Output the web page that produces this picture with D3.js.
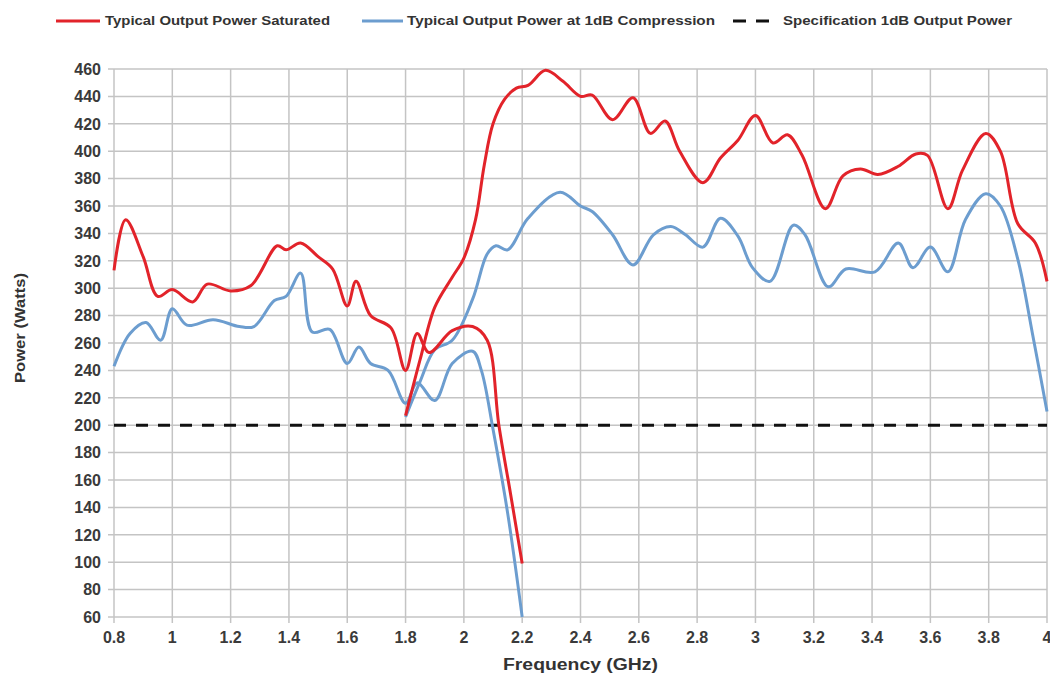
<!DOCTYPE html>
<html>
<head>
<meta charset="utf-8">
<script src="https://cdn.jsdelivr.net/npm/d3@7"></script>
<style>
  body { margin: 0; background: #fff; }
  text { font-family: "Liberation Sans", Arial, sans-serif; font-weight: bold; }
</style>
</head>
<body>
<div id="chart"></div>
<script>
// saturated power, lower band (0.8 - 2.2 GHz)
var satLowFreq = [0.8, 0.84, 0.9, 0.95, 1.0, 1.07, 1.12, 1.2, 1.27, 1.36, 1.39, 1.44, 1.5, 1.55, 1.6, 1.63, 1.68, 1.75, 1.8, 1.84, 1.88, 1.96, 2.03, 2.08, 2.12, 2.16, 2.2];
var satLowPower = [313, 350, 323, 294, 299, 290, 303, 298, 302, 331, 328, 333, 323, 314, 287, 305, 280, 271, 240, 267, 253, 269, 272, 262, 200, 150, 99];

// saturated power, upper band (1.8 - 4.0 GHz)
var satHighFreq = [1.8, 1.85, 1.9, 1.96, 2.0, 2.04, 2.07, 2.1, 2.14, 2.18, 2.22, 2.28, 2.34, 2.4, 2.44, 2.51, 2.58, 2.64, 2.69, 2.74, 2.82, 2.88, 2.94, 3.0, 3.06, 3.11, 3.16, 3.24, 3.3, 3.36, 3.42, 3.49, 3.55, 3.59, 3.66, 3.71, 3.79, 3.84, 3.9, 3.96, 4.0];
var satHighPower = [207, 248, 286, 308, 322, 350, 390, 420, 438, 446, 448, 459, 451, 440, 441, 423, 439, 413, 422, 400, 377, 395, 408, 426, 406, 412, 397, 358, 382, 387, 383, 389, 398, 397, 358, 386, 413, 400, 347, 333, 305];

// 1dB compression power, lower band
var cmpLowFreq = [0.8, 0.855, 0.91, 0.96, 1.0, 1.05, 1.14, 1.23, 1.28, 1.35, 1.39, 1.44, 1.48, 1.54, 1.6, 1.64, 1.68, 1.74, 1.8, 1.84, 1.9, 1.96, 2.03, 2.06, 2.1, 2.15, 2.2];
var cmpLowPower = [243, 267, 275, 262, 285, 273, 277, 272, 272, 291, 294, 311, 268, 270, 245, 257, 245, 240, 216, 231, 218, 245, 254, 240, 197, 136, 60];

// 1dB compression power, upper band
var cmpHighFreq = [1.8, 1.85, 1.9, 1.96, 2.03, 2.08, 2.11, 2.15, 2.22, 2.33, 2.4, 2.44, 2.51, 2.58, 2.65, 2.71, 2.76, 2.82, 2.88, 2.94, 2.99, 3.05, 3.13, 3.17, 3.25, 3.31, 3.41, 3.49, 3.54, 3.6, 3.66, 3.72, 3.79, 3.84, 3.9, 3.95, 4.0];
var cmpHighPower = [206, 232, 255, 262, 292, 325, 331, 328, 351, 370, 360, 356, 339, 317, 339, 345, 339, 330, 351, 338, 315, 305, 346, 339, 301, 314, 312, 333, 315, 330, 312, 350, 369, 360, 321, 267, 210];

var specPower = 200;

var xTicks = [0.8, 1, 1.2, 1.4, 1.6, 1.8, 2, 2.2, 2.4, 2.6, 2.8, 3, 3.2, 3.4, 3.6, 3.8, 4];
var yTicks = d3.range(60, 461, 20);

var legendNames = ['Typical Output Power Saturated', 'Typical Output Power at 1dB Compression', 'Specification 1dB Output Power'];

var width = 1050;
var height = 675;
var margin = {top: 69, right: 3, bottom: 58, left: 114};

var red = '#e2232a';
var blue = '#6c9dcf';
var gridColor = '#c4c4c4';

var svg = d3.select('#chart')
.append('svg')
.attr('width', width)
.attr('height', height);

var x = d3.scaleLinear().domain([0.8, 4]).range([margin.left, width - margin.right]);
var y = d3.scaleLinear().domain([60, 460]).range([height - margin.bottom, margin.top]);

// grid lines, with little tick stubs outside the plot
svg.append('g').selectAll('line').data(yTicks).enter().append('line')
.attr('x1', margin.left - 6).attr('x2', width - margin.right)
.attr('y1', function(d) { return y(d); }).attr('y2', function(d) { return y(d); })
.attr('stroke', gridColor).attr('stroke-width', 1.5);

svg.append('g').selectAll('line').data(xTicks).enter().append('line')
.attr('x1', function(d) { return x(d); }).attr('x2', function(d) { return x(d); })
.attr('y1', margin.top).attr('y2', height - margin.bottom + 6)
.attr('stroke', gridColor).attr('stroke-width', 1.5);

// tick labels
svg.append('g').selectAll('text').data(yTicks).enter().append('text')
.attr('x', margin.left - 13)
.attr('y', function(d) { return y(d); })
.attr('dy', '0.36em')
.attr('text-anchor', 'end')
.attr('font-size', 16)
.attr('fill', '#3a3a3a')
.text(function(d) { return d; });

svg.append('g').selectAll('text').data(xTicks).enter().append('text')
.attr('x', function(d) { return x(d); })
.attr('y', height - margin.bottom + 26)
.attr('text-anchor', 'middle')
.attr('font-size', 16)
.attr('fill', '#3a3a3a')
.text(function(d) { return d; });

// axis titles
svg.append('text')
.attr('x', x(2.4))
.attr('y', 670)
.attr('text-anchor', 'middle')
.attr('font-size', 16)
.attr('textLength', 155)
.attr('lengthAdjust', 'spacingAndGlyphs')
.attr('fill', '#333')
.text('Frequency (GHz)');

svg.append('text')
.attr('transform', 'translate(25,' + 328 + ') rotate(-90)')
.attr('text-anchor', 'middle')
.attr('font-size', 15)
.attr('textLength', 110)
.attr('lengthAdjust', 'spacingAndGlyphs')
.attr('fill', '#333')
.text('Power (Watts)');

// spec line
svg.append('line')
.attr('x1', x(0.8)).attr('x2', x(4))
.attr('y1', y(specPower)).attr('y2', y(specPower))
.attr('stroke', '#111').attr('stroke-width', 3)
.attr('stroke-dasharray', '12,10');

var line = d3.line()
.x(function(d) { return x(d[0]); })
.y(function(d) { return y(d[1]); })
.curve(d3.curveCatmullRom.alpha(0.5));

function drawSeries(freq, power, color) {
  var pts = d3.zip(freq, power);
  svg.append('path')
  .datum(pts)
  .attr('d', line)
  .attr('fill', 'none')
  .attr('stroke', color)
  .attr('stroke-width', 3)
  .attr('stroke-linejoin', 'round');
}

drawSeries(cmpLowFreq, cmpLowPower, blue);
drawSeries(cmpHighFreq, cmpHighPower, blue);
drawSeries(satLowFreq, satLowPower, red);
drawSeries(satHighFreq, satHighPower, red);

// legend
var legendY = 21;
var legendItems = [
  {name: legendNames[0], color: red, dash: null, x0: 56, x1: 100, tx: 105, tw: 225},
  {name: legendNames[1], color: blue, dash: null, x0: 362, x1: 403, tx: 407, tw: 308},
  {name: legendNames[2], color: '#111', dash: '13,10', x0: 733, x1: 770, tx: 783, tw: 229}
];

var lg = svg.append('g').selectAll('g').data(legendItems).enter().append('g');

lg.append('line')
.attr('x1', function(d) { return d.x0; }).attr('x2', function(d) { return d.x1; })
.attr('y1', legendY).attr('y2', legendY)
.attr('stroke', function(d) { return d.color; })
.attr('stroke-width', 3)
.attr('stroke-dasharray', function(d) { return d.dash; });

lg.append('text')
.attr('x', function(d) { return d.tx; })
.attr('y', legendY)
.attr('dy', '0.35em')
.attr('font-size', 12.5)
.attr('textLength', function(d) { return d.tw; })
.attr('lengthAdjust', 'spacingAndGlyphs')
.attr('fill', '#333')
.text(function(d) { return d.name; });
</script>
</body>
</html>
